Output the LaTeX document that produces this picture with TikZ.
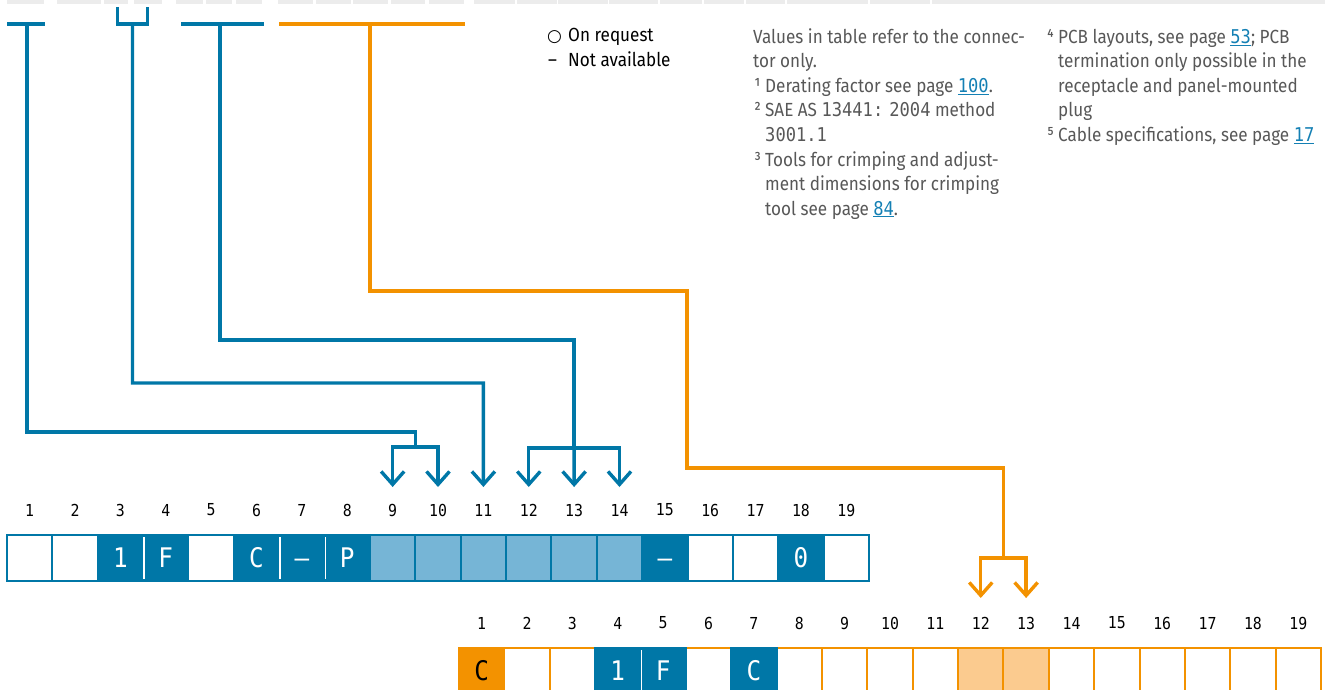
\documentclass[tikz,border=0pt]{standalone}
\usepackage{fontspec}
\setmainfont{Fira Sans}[FakeStretch=0.9]
\newfontfamily\dmono{DejaVu Sans Mono}[FakeStretch=0.9]
\newfontfamily\symfont{DejaVu Sans}
\usetikzlibrary{arrows.meta}
\definecolor{dblue}{RGB}{0,119,167}
\definecolor{lblue}{RGB}{118,181,214}
\definecolor{orng}{RGB}{243,146,0}
\definecolor{lorng}{RGB}{251,203,143}
\definecolor{txtgrey}{RGB}{88,88,88}
\definecolor{linkblue}{RGB}{20,128,180}
\definecolor{bargrey}{RGB}{236,236,236}
\newcommand\notefont{\fontsize{19}{22}\selectfont}
\newcommand\legfont{\fontsize{19}{22}\selectfont}
\newcommand\numfont{\dmono\fontsize{16.5}{18}\selectfont}
\newcommand\boxfont{\dmono\fontsize{27}{28}\selectfont}
\newcommand\lnk[1]{\textcolor{linkblue}{\underline{\dmono #1}}}
\newcommand\mn[1]{{\dmono #1}}
\tikzset{
 bconn/.style={draw=dblue, line width=3.4pt},
 oconn/.style={draw=orng, line width=3.4pt},
 arr/.style={-{Straight Barb[length=13pt,width=23pt]}},
 num/.style={inner sep=0pt, font=\numfont, text=black},
 note/.style={anchor=base west, inner sep=0pt, font=\notefont, text=txtgrey},
 leg/.style={anchor=base west, inner sep=0pt, font=\legfont, text=black},
 cellb/.style={minimum width=45.37pt, minimum height=46pt, inner sep=0pt, line width=2pt, font=\boxfont, text height=19.7pt, text depth=0pt},
 cw/.style={cellb, draw=dblue, fill=white},
 cd/.style={cellb, draw=dblue, fill=dblue, text=white},
 cl/.style={cellb, draw=dblue, fill=lblue},
 ow/.style={cellb, draw=orng, fill=white},
 oo/.style={cellb, draw=orng, fill=orng, text=black},
 ol/.style={cellb, draw=orng, fill=lorng},
 od/.style={cellb, draw=dblue, fill=dblue, text=white},
 whitesep/.style={draw=white, line width=1.6pt},
 topbar/.style={fill=bargrey},
}
\begin{document}
\begin{tikzpicture}[x=1pt,y=-1pt]
\useasboundingbox (0,0) rectangle (1325,690);
% grey bars at top
\foreach \a/\b in {7/44,57/101,104/128,134/162,176/203,206/232,236/262,278/313,316/351,353/388,391/425,429/464,474/515,517/557,558/608,609/658,660/702,704/744,746/785,787/868,870/930,932/1325}
  \fill[topbar] (\a,0) rectangle (\b,4);
% legend
\node[leg] (lgas) at (547,42) {{\symfont\fontsize{17}{18}\selectfont ○}};
\node[leg] (lga) at (568,42) {On request};
\node[leg] (lgbs) at (548,67) {–};
\node[leg] (lgb) at (568,67) {Not available};
% notes column 1
\node[note] (n1) at (753,43.5) {Values in table refer to the connec-};
\node[note] (n2) at (753,68) {tor only.};
\node[note] (n3s) at (754,92.5) {¹};
\node[note] (n3) at (765,92.5) {Derating factor see page \lnk{100}.};
\node[note] (n4s) at (754,117) {²};
\node[note] (n4) at (765,117) {SAE AS \mn{13441:} \mn{2004} method};
\node[note] (n5) at (765,141.5) {\mn{3001.1}};
\node[note] (n6s) at (754,166) {³};
\node[note] (n6) at (765,166) {Tools for crimping and adjust-};
\node[note] (n7) at (765,190.5) {ment dimensions for crimping};
\node[note] (n8) at (765,215) {tool see page \lnk{84}.};
% notes column 2
\node[note] (m1s) at (1047,43.5) {⁴};
\node[note] (m1) at (1058,43.5) {PCB layouts, see page \lnk{53}; PCB};
\node[note] (m2) at (1058,68) {termination only possible in the};
\node[note] (m3) at (1058,92.5) {receptacle and panel-mounted};
\node[note] (m4) at (1058,117) {plug};
\node[note] (m5s) at (1047,141.5) {⁵};
\node[note] (m5) at (1058,141.5) {Cable specifications, see page \lnk{17}};
% column numbers
\foreach \i in {1,...,19} {
  \node[num] (a\i) at ({7+45.37*(\i-0.5)},510) {\i};
  \node[num] (b\i) at ({459+45.37*(\i-0.5)},623) {\i};
}
% row 1 cells
\foreach \i/\s/\t in {1/cw/{},2/cw/{},3/cd/1,4/cd/F,5/cw/{},6/cd/C,7/cd/–,8/cd/P,9/cl/{},10/cl/{},11/cl/{},12/cl/{},13/cl/{},14/cl/{},15/cd/–,16/cw/{},17/cw/{},18/cd/0,19/cw/{}}
  \node[\s] (r\i) at ({7+45.37*(\i-0.5)},558) {\t};
\draw[whitesep] ([yshift=-3pt]r3.north east) -- ([yshift=3pt]r3.south east);
\draw[whitesep] ([yshift=-3pt]r6.north east) -- ([yshift=3pt]r6.south east);
\draw[whitesep] ([yshift=-3pt]r7.north east) -- ([yshift=3pt]r7.south east);
% row 2 cells
\begin{scope}
\clip (0,0) rectangle (1325,690);
\foreach \i/\s/\t in {1/oo/C,2/ow/{},3/ow/{},6/ow/{},8/ow/{},9/ow/{},10/ow/{},11/ow/{},12/ol/{},13/ol/{},14/ow/{},15/ow/{},16/ow/{},17/ow/{},18/ow/{},19/ow/{}}
  \node[\s] (q\i) at ({459+45.37*(\i-0.5)},671) {\t};
\foreach \i/\t in {4/1,5/F,7/C}
  \node[od] (q\i) at ({459+45.37*(\i-0.5)},671) {\t};
\draw[whitesep] ([yshift=-3pt]q4.north east) -- ([yshift=3pt]q4.south east);
\end{scope}
% connector origins (top bars)
\coordinate (s1) at (27,24);
\coordinate (s2) at (132.5,24);
\coordinate (s3) at (220,24);
\coordinate (s4) at (370,24);
\coordinate (tipA) at (0,487);
\coordinate (tipB) at (0,598);
\draw[bconn] (7,24) -- (45,24);
\draw[bconn] (117.5,7) |- (147.5,24) -- (147.5,7);
\draw[bconn] (181,24) -- (264,24);
\draw[oconn] (279,24) -- (465,24);
% connector 1 -> 9,10
\coordinate (j1) at (415.6,447);
\draw[bconn] (s1) |- (415.6,432) -- (j1);
\draw[bconn,arr] (j1) -| (a9 |- tipA);
\draw[bconn,arr] (j1) -| (a10 |- tipA);
% connector 2 -> 11
\draw[bconn,arr] (s2) |- (483.4,383) -- (a11 |- tipA);
% connector 3 -> 12,13,14
\coordinate (j3) at (574.1,448);
\draw[bconn] (s3) |- (574.1,340) -- (j3);
\draw[bconn,arr] (j3) -| (a12 |- tipA);
\draw[bconn,arr] (j3) -- (a13 |- tipA);
\draw[bconn,arr] (j3) -| (a14 |- tipA);
% orange connector -> 12,13 of row 2
\coordinate (j4) at (1003.5,558);
\draw[oconn] (s4) |- (687,291) |- (1003.5,468) -- (j4);
\draw[oconn,arr] (j4) -| (b12 |- tipB);
\draw[oconn,arr] (j4) -| (b13 |- tipB);
\end{tikzpicture}
\end{document}
